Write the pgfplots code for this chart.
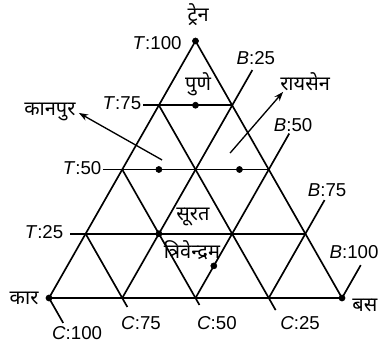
\documentclass[border=0pt]{standalone}
\usepackage{fontspec}
\setmainfont{Liberation Sans}
\newfontfamily\dev[Script=Devanagari]{Noto Sans}
\usepackage{pgfplots}
\pgfplotsset{compat=1.18}
\usetikzlibrary{arrows.meta}

\begin{document}
\begin{tikzpicture}[font=\fontsize{14}{16}\selectfont,
  hi/.style={font=\dev\fontsize{15}{17}\selectfont}]
\begin{axis}[
  x=2.1975pt, y=1.9275pt,
  xmin=-16.72, xmax=113.31, ymin=-18.68, ymax=115.95,
  hide axis, clip=false,
  ln/.style={black, no markers, line width=1.25pt},
  arr/.style={black, no markers, line width=1pt, -{Stealth[length=7pt,width=5pt]}},
]
\coordinate (ll) at (rel axis cs:0,0);
\coordinate (ur) at (rel axis cs:1,1);

% triangle edges (x = B + T/2, y = T)
\addplot[ln] coordinates {(0,0) (50,100) (100,0) (0,0)};
% T lines with tick stubs
\addplot[ln] coordinates {(7.2,25) (87.5,25)};
\addplot[ln] coordinates {(18.4,50) (75,50)};
\addplot[ln] coordinates {(32.1,75) (62.5,75)};
% B lines, extended beyond right edge
\addplot[ln] coordinates {(25,0) (69.4,88.7)};
\addplot[ln] coordinates {(50,0) (82,64)};
\addplot[ln] coordinates {(75,0) (94.05,38.1)};
\addplot[ln] coordinates {(100,0) (106.4,12.8)};
% C lines, extended below base
\addplot[ln] coordinates {(37.5,75) (77.35,-4.7)};
\addplot[ln] coordinates {(25,50) (51.35,-2.7)};
\addplot[ln] coordinates {(12.5,25) (26.75,-3.5)};
\addplot[ln] coordinates {(0,0) (4.85,-9.7)};

% arrows
\addplot[arr] coordinates {(38.6,53.7) (10.2,72.0)};
\addplot[arr] coordinates {(61.8,56.4) (79.9,80.2)};

% cities and vertices
\addplot[black, only marks, mark=*, mark size=2.3pt] coordinates {
  (50,100) (0,0) (100,0) (50,75) (37.5,50) (65,50) (37.5,25) (56.25,12.5)
};

% labels
\node at (axis cs:36.9,99.2) {\textit{T}:100};
\node at (axis cs:24.9,75.9) {\textit{T}:75};
\node at (axis cs:11.3,50.6) {\textit{T}:50};
\node at (axis cs:-1.7,25.7) {\textit{T}:25};
\node at (axis cs:70.6,93.4) {\textit{B}:25};
\node at (axis cs:83.3,67.3) {\textit{B}:50};
\node at (axis cs:94.9,42.0) {\textit{B}:75};
\node at (axis cs:104.1,17.9) {\textit{B}:100};
\node at (axis cs:9.6,-13.6) {\textit{C}:100};
\node at (axis cs:31.4,-9.7) {\textit{C}:75};
\node at (axis cs:57.3,-9.7) {\textit{C}:50};
\node at (axis cs:85.7,-9.7) {\textit{C}:25};

\node[hi] at (axis cs:50.9,110.1) {ट्रेन};
\node[hi] at (axis cs:107.8,-2.7) {बस};
\node[hi] at (axis cs:-8.5,0) {कार};
\node[hi] at (axis cs:50.9,83.3) {पुणे};
\node[hi] at (axis cs:87.4,84.0) {रायसेन};
\node[hi] at (axis cs:0.3,72.4) {कानपुर};
\node[hi] at (axis cs:49.1,31.5) {सूरत};
\node[hi] at (axis cs:48.8,18.7) {त्रिवेन्द्रम};
\end{axis}
\pgfresetboundingbox
\path[use as bounding box] (ll) rectangle (ur);
\end{tikzpicture}
\end{document}
